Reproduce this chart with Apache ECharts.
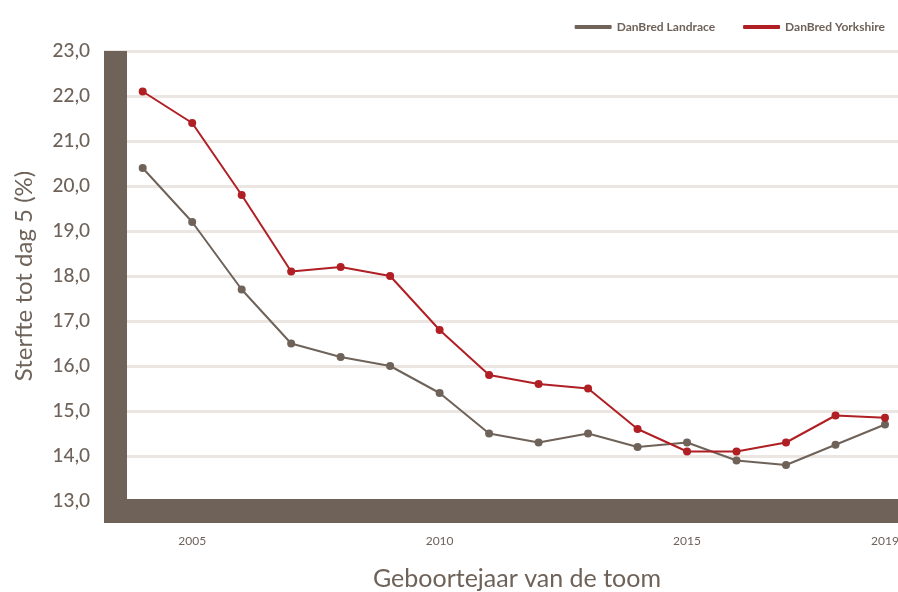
<!DOCTYPE html>
<html>
<head>
<meta charset="utf-8">
<script src="https://cdn.jsdelivr.net/npm/echarts@6/dist/echarts.min.js"></script>
<style>
  html, body { margin: 0; padding: 0; background: #fff; }
  #chart { width: 898px; height: 592px; }
</style>
</head>
<body>
<div id="chart"></div>
<script>
const years = [2004, 2005, 2006, 2007, 2008, 2009, 2010, 2011, 2012, 2013, 2014, 2015, 2016, 2017, 2018, 2019];
const landrace = [20.4, 19.2, 17.7, 16.5, 16.2, 16.0, 15.4, 14.5, 14.3, 14.5, 14.2, 14.3, 13.9, 13.8, 14.25, 14.7];
const yorkshire = [22.1, 21.4, 19.8, 18.1, 18.2, 18.0, 16.8, 15.8, 15.6, 15.5, 14.6, 14.1, 14.1, 14.3, 14.9, 14.85];
const yearLabels = [2005, 2010, 2015, 2019];

const brown = '#6e6259';
const red = '#b01f24';
const font = 'Lato, "Open Sans", sans-serif';

const chart = echarts.init(document.getElementById('chart'));

chart.setOption({
  animation: false,
  textStyle: {fontFamily: font},
  legend: {
    top: 16,
    right: 8,
    itemWidth: 37,
    itemHeight: 4,
    itemGap: 28,
    icon: 'roundRect',
    textStyle: {color: brown, fontSize: 12, fontWeight: 'bold', fontFamily: font},
    data: ['DanBred Landrace', 'DanBred Yorkshire']
  },
  grid: {left: 104, right: 0, top: 51, bottom: 91, outerBoundsMode: 'none'},
  xAxis: {
    type: 'value',
    min: 2003.218,
    max: 2019.263,
    offset: 10,
    name: 'Geboortejaar van de toom',
    nameLocation: 'middle',
    nameGap: 55,
    nameTextStyle: {color: brown, fontSize: 25, fontFamily: font, padding: [0, 0, 0, 32]},
    axisLine: {lineStyle: {color: brown, width: 24, cap: 'butt'}},
    axisTick: {show: false},
    splitLine: {show: false},
    z: 5,
    axisLabel: {
      customValues: yearLabels,
      color: brown,
      fontSize: 12,
      margin: 24,
      fontFamily: font,
      formatter: v => String(v)
    }
  },
  yAxis: [
    {
      type: 'value',
      min: 13,
      max: 23,
      interval: 1,
      name: 'Sterfte tot dag 5 (%)',
      nameLocation: 'middle',
      nameGap: 68,
      nameTextStyle: {color: brown, fontSize: 24, fontFamily: font},
      axisLine: {show: false},
      axisTick: {show: false},
      splitLine: {lineStyle: {color: '#ebe6e2', width: 3}},
      axisLabel: {
        color: brown,
        fontSize: 19,
        fontWeight: 500,
        margin: 14,
        fontFamily: font,
        formatter: v => v.toFixed(1).replace('.', ',')
      }
    },
    {
      type: 'value',
      position: 'left',
      min: 13,
      max: 23,
      offset: -11.5,
      z: 5,
      axisLine: {show: true, lineStyle: {color: brown, width: 23, cap: 'butt'}},
      axisTick: {show: false},
      axisLabel: {show: false},
      splitLine: {show: false}
    }
  ],
  series: [
    {
      name: 'DanBred Landrace',
      type: 'line',
      data: years.map((y, i) => [y, landrace[i]]),
      color: brown,
      symbol: 'circle',
      symbolSize: 8,
      lineStyle: {width: 2}
    },
    {
      name: 'DanBred Yorkshire',
      type: 'line',
      data: years.map((y, i) => [y, yorkshire[i]]),
      color: red,
      symbol: 'circle',
      symbolSize: 8,
      lineStyle: {width: 2}
    }
  ]
});
</script>
</body>
</html>
